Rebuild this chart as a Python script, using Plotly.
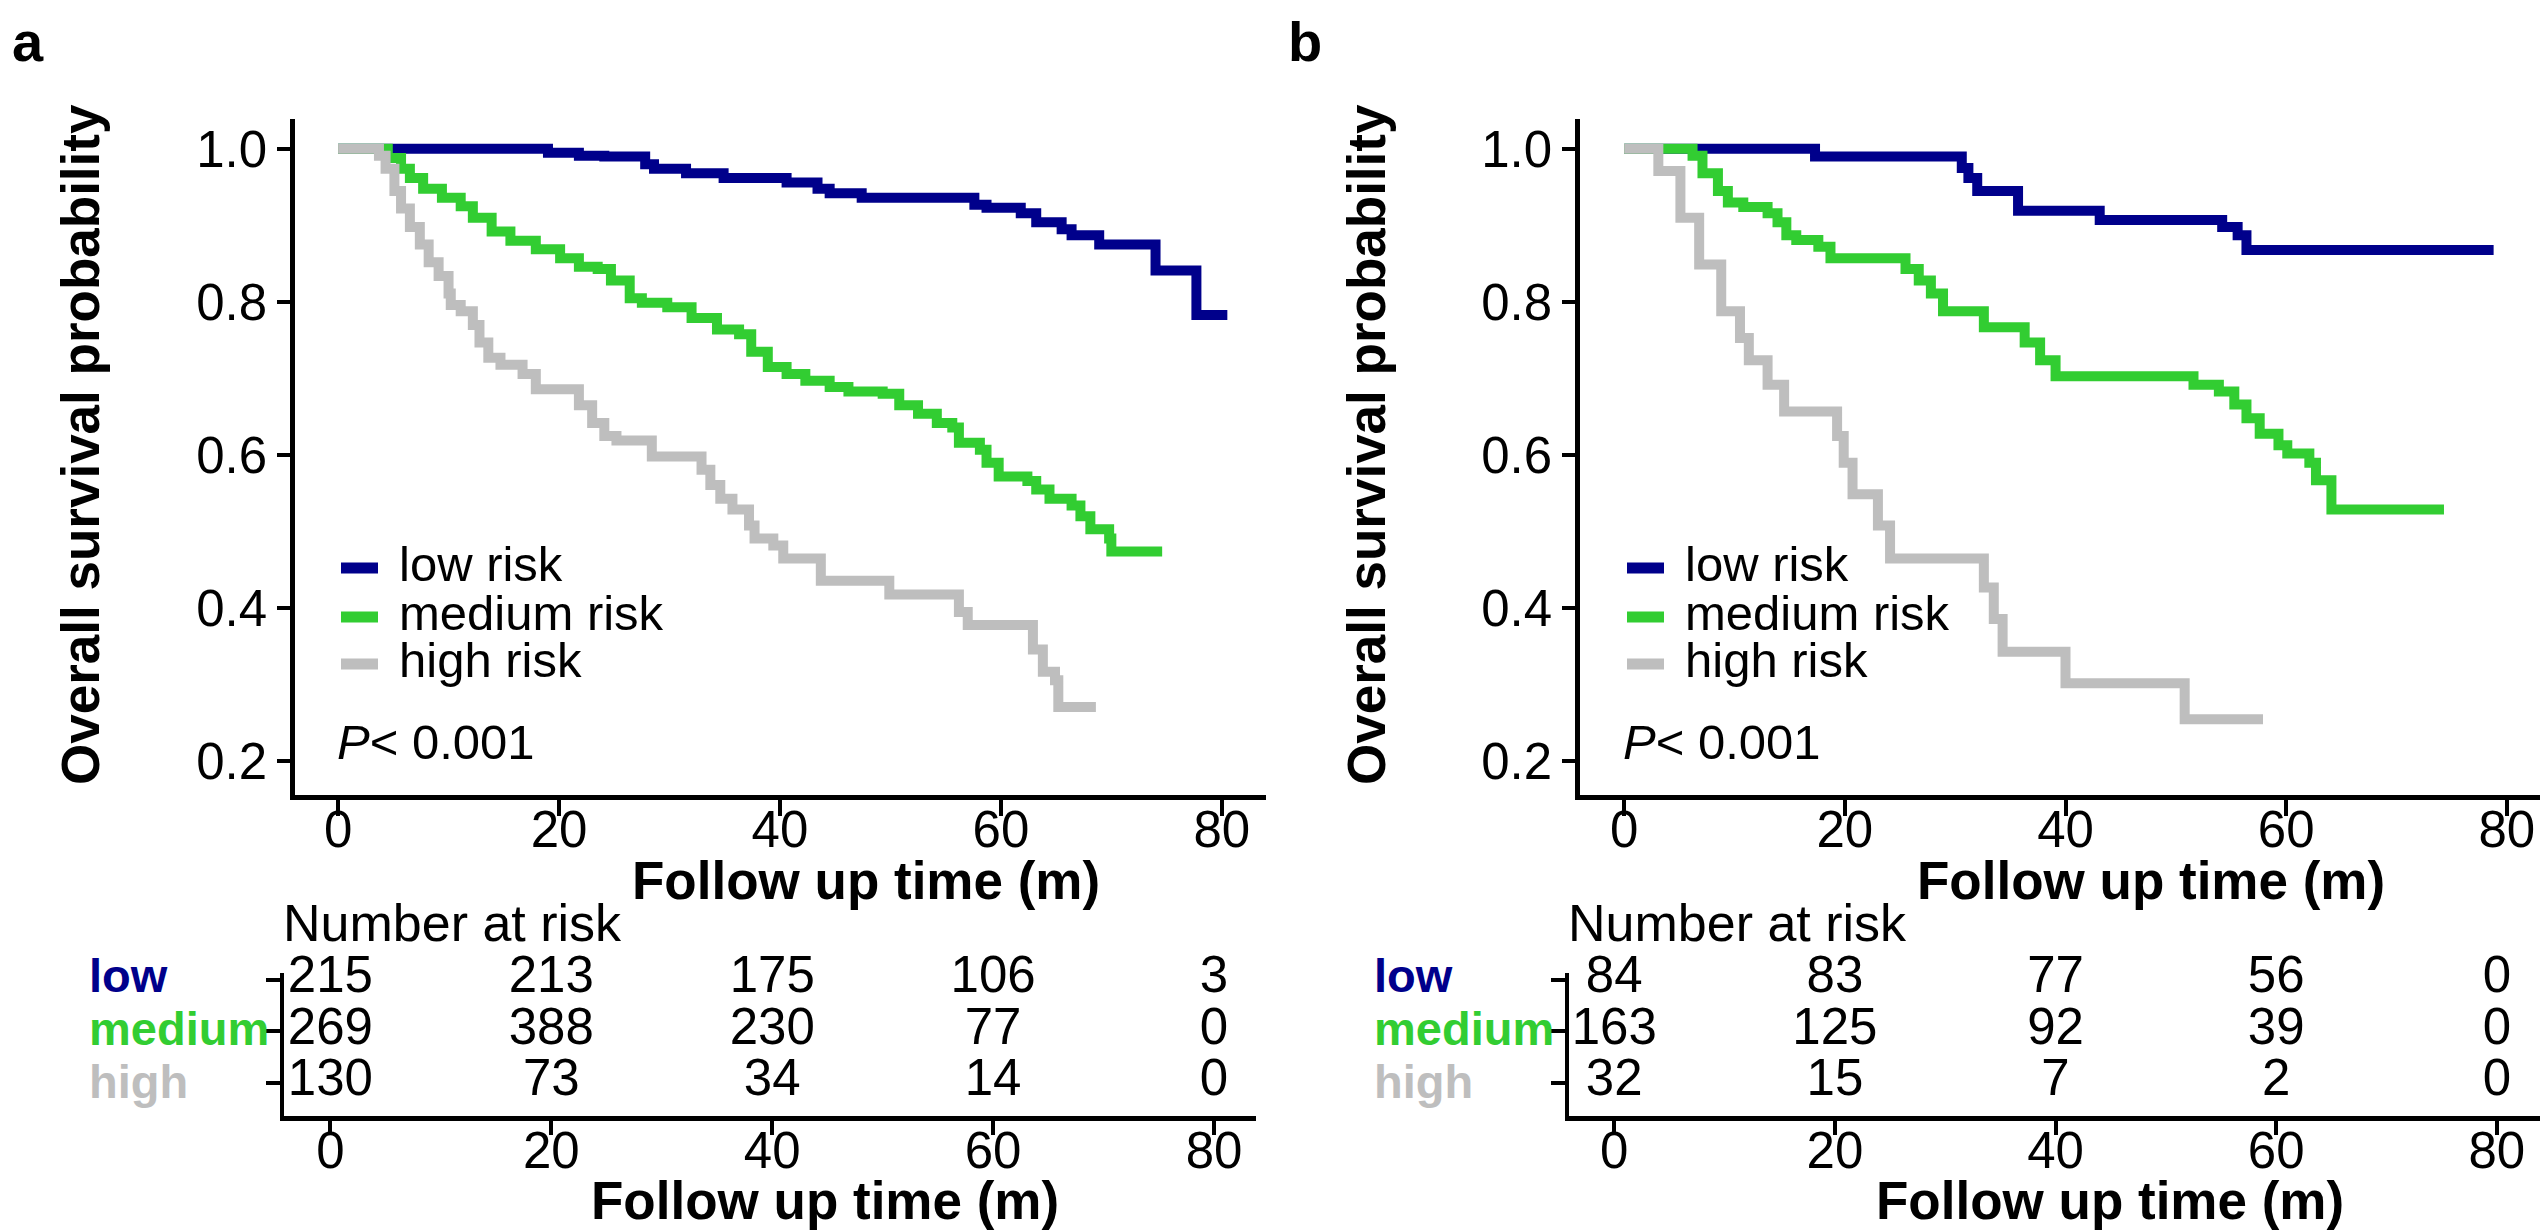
import plotly.graph_objects as go

# ---------------- data ----------------
groups = ["low risk", "medium risk", "high risk"]
row_labels = ["low", "medium", "high"]
colors = ["#00008B", "#32CD32", "#BEBEBE"]

# panel a survival curves (time in months, survival probability)
a_low_t = [0, 19.0, 21.8, 24.1, 27.8, 28.6, 31.5, 34.9, 40.6, 43.4, 44.5, 47.4, 57.6, 58.7, 61.8, 63.2, 65.5, 66.4, 68.9, 74.0, 77.7, 80.5]
a_low_s = [1.0, 0.995, 0.991, 0.990, 0.980, 0.974, 0.968, 0.962, 0.956, 0.948, 0.942, 0.936, 0.927, 0.923, 0.916, 0.904, 0.895, 0.887, 0.875, 0.841, 0.783, 0.783]

a_med_t = [0, 3.7, 4.5, 5.7, 6.5, 7.7, 9.4, 11.1, 12.2, 13.9, 15.6, 17.9, 20.1, 21.8, 23.5, 24.7, 26.4, 27.5, 29.8, 32.0, 34.3, 36.3, 37.4, 38.9, 40.6, 42.3, 44.5, 46.2, 49.3, 50.8, 52.5, 54.2, 55.6, 56.2, 58.1, 58.7, 59.8, 62.4, 63.2, 64.4, 66.4, 67.2, 68.1, 69.8, 70.0, 74.6]
a_med_s = [1.0, 1.0, 0.988, 0.974, 0.962, 0.948, 0.936, 0.925, 0.910, 0.892, 0.880, 0.869, 0.857, 0.846, 0.843, 0.828, 0.805, 0.799, 0.793, 0.779, 0.764, 0.758, 0.735, 0.715, 0.706, 0.697, 0.689, 0.683, 0.680, 0.665, 0.654, 0.642, 0.636, 0.616, 0.607, 0.590, 0.572, 0.566, 0.555, 0.543, 0.534, 0.520, 0.503, 0.491, 0.474, 0.474]

a_high_t = [0, 3.7, 4.3, 5.1, 5.7, 6.5, 7.4, 8.2, 9.1, 10.0, 10.2, 11.1, 12.2, 12.8, 13.6, 14.7, 16.7, 17.9, 21.8, 23.0, 24.1, 25.2, 28.4, 32.9, 33.7, 34.6, 35.7, 37.2, 37.7, 39.4, 40.3, 43.7, 49.9, 56.2, 57.0, 62.9, 63.8, 64.9, 65.2, 68.6]
a_high_s = [1.0, 0.991, 0.974, 0.945, 0.922, 0.898, 0.875, 0.852, 0.834, 0.811, 0.796, 0.788, 0.770, 0.747, 0.727, 0.718, 0.706, 0.686, 0.665, 0.642, 0.625, 0.619, 0.598, 0.581, 0.561, 0.543, 0.529, 0.508, 0.491, 0.482, 0.465, 0.436, 0.418, 0.395, 0.378, 0.346, 0.317, 0.306, 0.271, 0.271]

# panel b survival curves
b_low_t = [0, 17.3, 30.6, 31.2, 32.0, 35.7, 43.1, 54.2, 55.6, 56.4, 78.8]
b_low_s = [1.0, 0.990, 0.975, 0.962, 0.945, 0.919, 0.907, 0.898, 0.887, 0.868, 0.868]

b_med_t = [0, 4.0, 6.2, 7.1, 8.5, 9.4, 10.8, 13.0, 13.9, 14.7, 15.6, 17.6, 18.7, 25.5, 26.7, 27.8, 28.9, 32.6, 36.3, 37.7, 39.1, 51.6, 53.9, 55.3, 56.4, 57.6, 59.3, 60.1, 62.1, 62.7, 64.1, 74.3]
b_med_s = [1.0, 1.0, 0.991, 0.968, 0.945, 0.930, 0.924, 0.916, 0.904, 0.887, 0.881, 0.872, 0.857, 0.843, 0.828, 0.811, 0.788, 0.767, 0.747, 0.724, 0.703, 0.692, 0.683, 0.666, 0.648, 0.628, 0.613, 0.602, 0.590, 0.567, 0.529, 0.529]

b_high_t = [0, 3.1, 5.1, 6.8, 8.8, 10.5, 11.3, 13.0, 14.5, 19.3, 19.9, 20.7, 23.0, 24.1, 32.6, 33.5, 34.3, 40.0, 50.8, 57.9]
b_high_s = [1.0, 0.971, 0.910, 0.849, 0.788, 0.753, 0.724, 0.692, 0.657, 0.625, 0.590, 0.549, 0.508, 0.465, 0.427, 0.386, 0.343, 0.302, 0.255, 0.255]

# number at risk tables
risk_times = [0, 20, 40, 60, 80]
a_risk_low = [215, 213, 175, 106, 3]
a_risk_med = [269, 388, 230, 77, 0]
a_risk_high = [130, 73, 34, 14, 0]
b_risk_low = [84, 83, 77, 56, 0]
b_risk_med = [163, 125, 92, 39, 0]
b_risk_high = [32, 15, 7, 2, 0]

x_ticks = [0, 20, 40, 60, 80]
y_ticks = [0.2, 0.4, 0.6, 0.8, 1.0]
p_text = "<i>P</i>< 0.001"

# ---------------- layout helpers ----------------
W, H = 2548, 1232
FONT = "Liberation Sans, Arial, sans-serif"


def fx(p):
    return p / W


def fy(p):
    return 1 - p / H


fig = go.Figure()

panels = [
    dict(x="x", y="y", xt="x3", yt="y3",
         curves=[(a_low_t, a_low_s), (a_med_t, a_med_s), (a_high_t, a_high_s)],
         risk=[a_risk_low, a_risk_med, a_risk_high]),
    dict(x="x2", y="y2", xt="x4", yt="y4",
         curves=[(b_low_t, b_low_s), (b_med_t, b_med_s), (b_high_t, b_high_s)],
         risk=[b_risk_low, b_risk_med, b_risk_high]),
]

for p in panels:
    for (t, s), name, c in zip(p["curves"], groups, colors):
        assert len(t) == len(s)
        fig.add_trace(go.Scatter(x=t, y=s, mode="lines", name=name,
                                 line=dict(shape="hv", width=10, color=c),
                                 xaxis=p["x"], yaxis=p["y"], showlegend=False,
                                 hoverinfo="skip"))
    for row, vals in zip([3, 2, 1], p["risk"]):
        fig.add_trace(go.Scatter(x=risk_times, y=[row] * len(vals), mode="text",
                                 text=[str(v) for v in vals],
                                 textfont=dict(family=FONT, size=51, color="black"),
                                 textposition="middle center", cliponaxis=False,
                                 xaxis=p["xt"], yaxis=p["yt"], showlegend=False,
                                 hoverinfo="skip"))

axis_common = dict(showline=True, linecolor="black", linewidth=4.5, ticks="outside",
                   tickcolor="black", tickwidth=4, showgrid=False, zeroline=False,
                   tickfont=dict(family=FONT, size=51, color="black"))

main_y = dict(axis_common, range=[0.156, 1.039], tickvals=y_ticks, tickformat=".1f",
              ticklen=13, domain=[fy(787), fy(111)])
table_y = dict(axis_common, range=[0.35, 3.13], tickvals=[1, 2, 3], showticklabels=False,
               ticklen=14, linewidth=4, domain=[fy(1108), fy(965)])

fig.update_layout(
    width=W, height=H,
    margin=dict(l=0, r=0, t=0, b=0),
    paper_bgcolor="white", plot_bgcolor="white",
    xaxis=dict(axis_common, range=[-3.9, 84.0], tickvals=x_ticks, ticklen=16,
               ticklabelstandoff=-30, domain=[fx(287), fx(1258)], anchor="y"),
    yaxis=dict(main_y, anchor="x"),
    xaxis2=dict(axis_common, range=[-4.0, 84.0], tickvals=x_ticks, ticklen=16,
                ticklabelstandoff=-30, domain=[fx(1572), fx(2543)], anchor="y2"),
    yaxis2=dict(main_y, anchor="x2"),
    xaxis3=dict(axis_common, range=[-4.2, 83.8], tickvals=x_ticks, ticklen=14, linewidth=5,
                ticklabelstandoff=-28, domain=[fx(276), fx(1248)], anchor="y3"),
    yaxis3=dict(table_y, anchor="x3"),
    xaxis4=dict(axis_common, range=[-4.1, 84.0], tickvals=x_ticks, ticklen=14, linewidth=5,
                ticklabelstandoff=-28, domain=[fx(1561), fx(2533)], anchor="y4"),
    yaxis4=dict(table_y, anchor="x4"),
    showlegend=False,
)

ann = []
shapes = []


def text(x, y, s, size=50, bold=False, xanchor="center", yanchor="middle", angle=0, color="black"):
    ann.append(dict(x=fx(x), y=fy(y), xref="paper", yref="paper", showarrow=False,
                    text=("<b>%s</b>" % s) if bold else s, textangle=angle,
                    xanchor=xanchor, yanchor=yanchor,
                    font=dict(family=FONT, size=size, color=color)))


# panel offsets (pixel origin of each panel's y-axis)
for lab, ox, lab_x, yaxis_x in [("a", 0, 20, 286), ("b", 1285, 1297, 1572)]:
    text(lab_x, 33, lab, size=56, bold=True)
    # y axis title
    text(yaxis_x - 213, 437, "Overall survival probability", size=53, bold=True, angle=-90)
    # x axis title (main)
    text(ox + 858, 872, "Follow up time (m)", size=53, bold=True)
    # number at risk title
    text(ox + 273, 915, "Number at risk", size=52, xanchor="left")
    # table x title
    text(ox + 817, 1192, "Follow up time (m)", size=53, bold=True)
    # table row labels
    for yy, rl, c in zip([967, 1020, 1073], row_labels, colors):
        text(ox + 79, yy, rl, size=47, bold=True, xanchor="left", color=c)
    # legend
    lx0 = yaxis_x + 47
    for yy, g, c in zip([560, 609, 656], groups, colors):
        shapes.append(dict(type="line", xref="paper", yref="paper",
                           x0=fx(lx0), x1=fx(lx0 + 37), y0=fy(yy), y1=fy(yy),
                           line=dict(color=c, width=11)))
        text(lx0 + 56, yy - 4, g, size=49, xanchor="left")
    # p value
    text(yaxis_x + 41, 734, p_text, size=49, xanchor="left")

fig.update_layout(annotations=ann, shapes=shapes)
fig.write_html("out.html")
